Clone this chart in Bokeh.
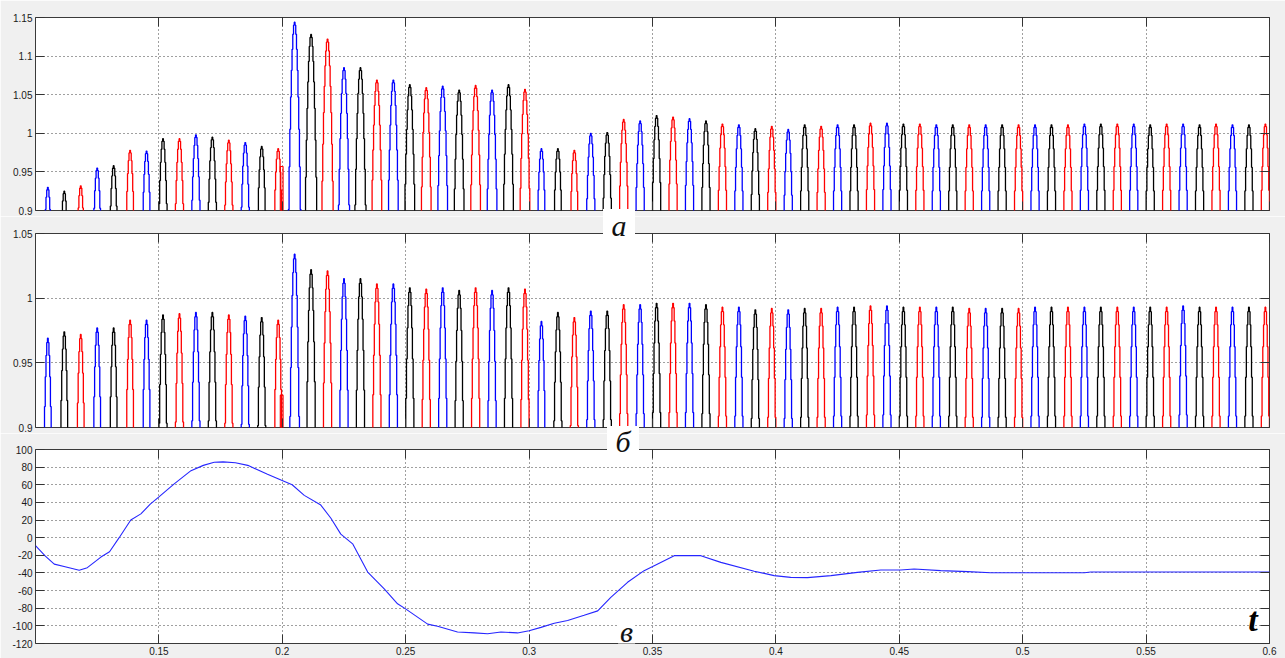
import numpy as np
from bokeh.plotting import figure
from bokeh.layouts import column
from bokeh.models import FixedTicker, LinearAxis, Range1d, Label, ColumnDataSource, Div
from bokeh.embed import file_html
from bokeh.resources import INLINE

# ---------------- data ----------------
# pulse train: three phases (blue, black, red), one peak every 1/150 s
first_pulse_t = 0.105
pulse_spacing = 1.0 / 150.0
phase_colors = ["#0000ff", "#000000", "#ff0000"]

# panel "а": peak value of every pulse
peaks_a = [0.930, 0.925, 0.932, 0.955, 0.958, 0.978, 0.977, 0.993, 0.993, 0.998,
           0.995, 0.991, 0.988, 0.983, 0.980,
           1.144, 1.128, 1.122, 1.085, 1.085, 1.069, 1.069, 1.063, 1.059, 1.061,
           1.056, 1.062, 1.056, 1.063, 1.057,
           0.980, 0.980, 0.978, 1.000, 1.001, 1.018, 1.016, 1.023, 1.021, 1.019,
           1.016, 1.012, 1.011, 1.006, 1.009,
           1.005, 1.011, 1.009, 1.011, 1.011, 1.013, 1.013, 1.012, 1.012, 1.011,
           1.011, 1.011, 1.011, 1.011, 1.011,
           1.011, 1.011, 1.011, 1.012, 1.012, 1.012, 1.012, 1.011, 1.012, 1.012,
           1.011, 1.012, 1.011, 1.011, 1.012]

# panel "б": peak value of every pulse
peaks_b = [0.969, 0.974, 0.972, 0.977, 0.977, 0.983, 0.983, 0.987, 0.988, 0.989,
           0.989, 0.987, 0.986, 0.985, 0.983,
           1.034, 1.022, 1.021, 1.015, 1.015, 1.011, 1.011, 1.008, 1.007, 1.008,
           1.006, 1.008, 1.006, 1.008, 1.007,
           0.982, 0.989, 0.985, 0.990, 0.990, 0.995, 0.995, 0.996, 0.996, 0.996,
           0.995, 0.993, 0.993, 0.991, 0.992,
           0.991, 0.992, 0.992, 0.993, 0.993, 0.994, 0.994, 0.993, 0.993, 0.993,
           0.993, 0.992, 0.992, 0.992, 0.992,
           0.993, 0.993, 0.993, 0.993, 0.993, 0.993, 0.993, 0.993, 0.993, 0.994,
           0.993, 0.993, 0.993, 0.993, 0.993]

# switching transient at t = 0.2 (red phase)
transient_left = [0.1992]
transient_right = [0.2003]
transient_a = [0.957]
transient_b = [0.925]

# panel "в": curve
curve_t = [0.1000, 0.1040, 0.1076, 0.1120, 0.1177, 0.1210, 0.1265, 0.1300, 0.1339, 0.1386,
           0.1427, 0.1465, 0.1499, 0.1562, 0.1630, 0.1680, 0.1724, 0.1760, 0.1810, 0.1860,
           0.1940, 0.1997, 0.2040, 0.2089, 0.2156, 0.2197, 0.2237, 0.2285, 0.2346, 0.2413,
           0.2467, 0.2501, 0.2589, 0.2629, 0.2710, 0.2778, 0.2832, 0.2886, 0.2953, 0.3000,
           0.3048, 0.3102, 0.3156, 0.3223, 0.3278, 0.3331, 0.3399, 0.3466, 0.3507, 0.3588,
           0.3696, 0.3777, 0.3912, 0.3993, 0.4060, 0.4128, 0.4223, 0.4330, 0.4425, 0.4506,
           0.4560, 0.4668, 0.4777, 0.4871, 0.5250, 0.5276, 0.6000]
curve_v = [-9, -21, -30, -33, -37, -34, -22, -16, 0, 20,
           27, 38, 46, 61, 76, 82, 85.5, 86, 85, 82,
           72, 65, 60, 48, 37, 22, 4, -7, -39, -58,
           -75, -81, -98, -100.5, -107, -108, -109, -107, -108, -105.6,
           -101.7, -97, -94, -88, -83, -67.6, -50.6, -37.4, -31.7, -20.4,
           -20.4, -28, -38, -43, -45, -45.3, -43, -39.3, -36.7, -36.7,
           -35.5, -37.4, -38.5, -39.7, -39.7, -39, -39]

# ticks
x_ticks = [0.15, 0.2, 0.25, 0.3, 0.35, 0.4, 0.45, 0.5, 0.55, 0.6]
x_tick_labels = ["0.15", "0.2", "0.25", "0.3", "0.35", "0.4", "0.45", "0.5", "0.55", "0.6"]
ya_ticks = [0.9, 0.95, 1, 1.05, 1.1, 1.15]
ya_tick_labels = ["0.9", "0.95", "1", "1.05", "1.1", "1.15"]
yb_ticks = [0.9, 0.95, 1, 1.05]
yb_tick_labels = ["0.9", "0.95", "1", "1.05"]
yc_ticks = [-120, -100, -80, -60, -40, -20, 0, 20, 40, 60, 80, 100]
yc_tick_labels = ["-120", "-100", "-80", "-60", "-40", "-20", "0", "20", "40", "60", "80", "100"]

# ---------------- drawing ----------------
W = 1285
FONT = "Liberation Sans"
SERIF = "Liberation Serif"


def pulse_shapes(peaks, base):
    """Slightly stair-stepped sine caps of each pulse above the lower axis limit."""
    omega = 2 * np.pi * 44.0
    dt = 0.0003
    xs, ys, cols = [], [], []
    for k, pk in enumerate(peaks):
        tk = first_pulse_t + k * pulse_spacing
        half = np.arccos(min(base / pk, 1.0)) / omega
        n = int(np.ceil(half / dt)) + 1
        ts = tk + dt * np.arange(-n, n + 1)
        vals = pk * np.cos(omega * (ts - tk))
        left = ts - dt / 2
        right = ts + dt / 2
        x = np.column_stack([left, right]).ravel()
        y = np.column_stack([vals, vals]).ravel()
        y[0] = base - 0.02
        y[-1] = base - 0.02
        xs.append(list(x))
        ys.append(list(y))
        cols.append(phase_colors[k % 3])
    return ColumnDataSource(dict(xs=xs, ys=ys, color=cols))


def style_axis(ax, ticks, labels=None):
    ax.ticker = FixedTicker(ticks=ticks)
    ax.major_tick_in = 9
    ax.major_tick_out = 0
    ax.minor_tick_line_color = None
    ax.major_tick_line_color = "#333333"
    ax.axis_line_color = None
    if labels is None:
        ax.major_label_text_font_size = "0px"
        ax.major_label_standoff = 0
    else:
        ax.major_label_overrides = {t: l for t, l in zip(ticks, labels)}
        ax.major_label_text_font_size = "10px"
        ax.major_label_text_font = FONT
        ax.major_label_text_color = "#1a1a1a"
        ax.major_label_standoff = 3


def make_fig(height, y0, y1, btop, bbottom, yticks, ylabels, xlabels):
    p = figure(width=W, height=height, x_range=Range1d(0.1, 0.6), y_range=Range1d(y0, y1),
               output_backend="svg", toolbar_location=None,
               min_border_left=35, min_border_right=16,
               min_border_top=btop, min_border_bottom=bbottom,
               background_fill_color="white", border_fill_color="#f0f0f0",
               outline_line_color="#3a3a3a", outline_line_width=1)
    style_axis(p.xaxis[0], x_ticks, x_tick_labels if xlabels else None)
    style_axis(p.yaxis[0], yticks, ylabels)
    top_ax = LinearAxis()
    style_axis(top_ax, x_ticks, None)
    p.add_layout(top_ax, "above")
    right_ax = LinearAxis()
    style_axis(right_ax, yticks, None)
    p.add_layout(right_ax, "right")
    for g, t in ((p.xgrid[0], x_ticks), (p.ygrid[0], yticks)):
        g.ticker = FixedTicker(ticks=t)
        g.grid_line_color = "#000000"
        g.grid_line_alpha = 0.75
        g.grid_line_dash = "1 3"
        g.grid_line_width = 1
    return p


def gap_label(text, left, top, height, anchor, line_height):
    """White label box overlaid across the gap between two panels (net height 0)."""
    return Div(text=text, width=32, height=height,
               margin=(-(anchor - top), 0, -(height - (anchor - top)), left),
               styles={"background-color": "white", "z-index": "10", "position": "relative",
                       "text-align": "center", "font-family": SERIF, "font-style": "italic",
                       "font-size": "30px", "line-height": "%dpx" % line_height, "color": "#111111",
                       "overflow": "visible"})


# panel а  (canvas 0..216, frame 17..210)
p1 = make_fig(216, 0.9, 1.15, 17, 6, ya_ticks, ya_tick_labels, False)
p1.multi_line(xs="xs", ys="ys", line_color="color", line_width=1.3,
              source=pulse_shapes(peaks_a, 0.9))
p1.quad(left=transient_left, right=transient_right, top=transient_a,
        bottom=[0.9] * len(transient_a), fill_color=None, line_color="#ff0000", line_width=1.2)

# panel б  (canvas 216..433, frame 233..427)
p2 = make_fig(217, 0.9, 1.05, 17, 6, yb_ticks, yb_tick_labels, False)
p2.multi_line(xs="xs", ys="ys", line_color="color", line_width=1.3,
              source=pulse_shapes(peaks_b, 0.9))
p2.quad(left=transient_left, right=transient_right, top=transient_b,
        bottom=[0.9] * len(transient_b), fill_color=None, line_color="#ff0000", line_width=1.2)

# panel в  (canvas 433..658, frame 449..643)
p3 = make_fig(225, -120, 100, 16, 15, yc_ticks, yc_tick_labels, True)
p3.xaxis[0].major_label_standoff = 2
p3.line(curve_t, curve_v, line_color="#2626ff", line_width=1.1)
p3.add_layout(Label(x=0.3395, y=-106, text="в", text_font=SERIF, text_font_style="italic",
                    text_font_size="30px", text_align="center", text_baseline="middle",
                    text_color="#111111", background_fill_color="white", padding=2))
p3.add_layout(Label(x=0.5933, y=-93, text="t", text_font=SERIF, text_font_style="bold italic",
                    text_font_size="34px", text_align="center", text_baseline="middle",
                    text_color="#000000"))

lab_a = gap_label("а", 603, 209, 26, 216, 34)
lab_b = gap_label("б", 607, 426, 26, 433, 32)

layout = column(p1, lab_a, p2, lab_b, p3, spacing=0)
open("out.html", "w").write(file_html(layout, INLINE))
